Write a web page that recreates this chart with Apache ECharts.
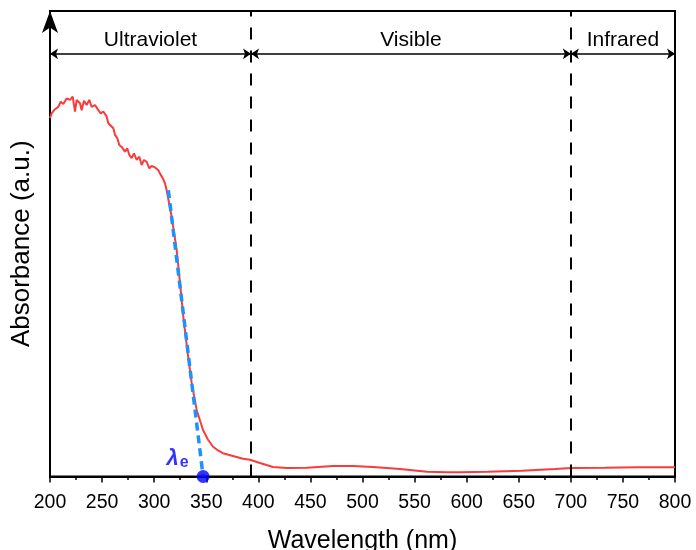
<!DOCTYPE html>
<html>
<head>
<meta charset="utf-8">
<script src="https://cdn.jsdelivr.net/npm/echarts@6/dist/echarts.min.js"></script>
<style>
	html, body { margin: 0; padding: 0; background: #fff; }
	#chart { width: 696px; height: 550px; }
</style>
</head>
<body>
<div id="chart"></div>
<script>
// absorbance spectrum (nm, a.u. scaled 0..100)
const wavelength = [
	200, 201.6, 204.8, 208, 210.3, 212.8, 216, 219.2, 221.8, 224, 225.6,
	228.8, 230.4, 232.6, 235.2, 237.7, 240, 243.2, 246.4, 248.7, 251.2,
	254.4, 256, 257.6, 260.8, 262.4, 264.6, 266.5, 268.8, 272, 274.2,
	276.1, 278.4, 280.6, 283.2, 285.7, 288, 290.2, 292.8, 295.3, 297.6,
	300.8, 304, 306.3, 308.2, 310.4, 312, 316.8, 321.6, 324.8, 328,
	331.8, 336, 340.8, 346.9, 351.7, 356.5, 361.3, 366, 375.7, 385.3,
	392, 401.6, 414, 427.5, 446.7, 471.7, 490.9, 510, 536, 561.9,
	581, 593.6, 620.5, 653, 684.8, 701, 732.8, 764.5, 800
];
const absorbance = [
	77.0, 78.0, 78.9, 79.4, 80.5, 80.0, 81.2, 80.9, 81.6, 78.4, 80.9,
	80.2, 78.7, 80.7, 79.8, 80.9, 79.4, 79.8, 78.7, 78.0, 78.4,
	77.3, 75.9, 76.2, 74.8, 73.4, 72.7, 71.2, 70.8, 69.8, 70.5,
	69.1, 68.4, 69.4, 68.0, 68.7, 66.9, 68.0, 67.6, 66.2, 66.7,
	66.4, 65.8, 64.8, 64.1, 63.0, 61.5, 55.8, 48.7, 41.6, 34.3,
	27.2, 20.1, 14.3, 10.0, 7.9, 6.4, 5.6, 5.0, 4.4, 3.8,
	3.6, 2.9, 2.04, 1.83, 1.89, 2.26, 2.26, 2.04, 1.61, 1.03,
	0.9, 0.9, 1.03, 1.25, 1.61, 1.83, 1.89, 1.98, 1.98
];

// tangent used to find the absorption edge
const edgeX = [313.6, 347];
const edgeY = [61.5, 0];
const edgeWavelength = 347;

// spectral regions
const regionNames = ['Ultraviolet', 'Visible', 'Infrared'];
const regionBounds = [200, 393, 700, 800];
const regionArrowLevel = 90.8;

const xTicks = {min: 200, max: 800, interval: 50};

const font = 'Arial, "Liberation Sans", sans-serif';

const chart = echarts.init(document.getElementById('chart'), null, {renderer: 'canvas'});

const spectrum = wavelength.map((w, i) => [w, absorbance[i]]);
const tangent = edgeX.map((x, i) => [x, edgeY[i]]);

const regionArrows = regionNames.map((name, i) => [
	{coord: [regionBounds[i], regionArrowLevel], name: name},
	{coord: [regionBounds[i + 1], regionArrowLevel]}
]);
const dividers = regionBounds.slice(1, -1).map(b => ({xAxis: b}));

chart.setOption({
	animation: false,
	backgroundColor: '#fff',
	textStyle: {fontFamily: font, color: '#000'},
	grid: {
		left: 50,
		right: 21,
		top: 11,
		bottom: 73.5,
		outerBoundsMode: 'none',
		containLabel: false,
		show: true,
		borderColor: '#000',
		borderWidth: 2,
		backgroundColor: 'transparent'
	},
	xAxis: {
		type: 'value',
		min: xTicks.min,
		max: xTicks.max,
		interval: xTicks.interval,
		name: 'Wavelength (nm)',
		nameLocation: 'middle',
		nameGap: 52,
		nameTextStyle: {fontSize: 25, color: '#000', fontFamily: font},
		axisLine: {lineStyle: {color: '#000', width: 2}},
		axisTick: {show: true, inside: false, length: 6, lineStyle: {color: '#000', width: 1.5}},
		minorTick: {show: true, splitNumber: 2, length: 3.5, lineStyle: {color: '#000', width: 1.5}},
		axisLabel: {fontSize: 19.5, color: '#000', margin: 16, fontFamily: font},
		splitLine: {show: false}
	},
	yAxis: {
		type: 'value',
		min: 0,
		max: 100,
		name: 'Absorbance (a.u.)',
		nameLocation: 'middle',
		nameGap: 15,
		nameTextStyle: {fontSize: 26, color: '#000', fontFamily: font},
		axisLine: {
			show: true,
			lineStyle: {color: '#000', width: 2},
			symbol: ['none', 'arrow'],
			symbolSize: [12, 22],
			symbolOffset: [0, 0]
		},
		axisTick: {show: false},
		axisLabel: {show: false},
		splitLine: {show: false}
	},
	series: [
		{
			name: 'regions',
			type: 'line',
			data: [],
			silent: true,
			markLine: {
				silent: true,
				animation: false,
				symbol: ['none', 'none'],
				lineStyle: {color: '#000', width: 2, type: [12, 11]},
				label: {show: false},
				data: dividers
			}
		},
		{
			name: 'bands',
			type: 'line',
			data: [],
			silent: true,
			markLine: {
				silent: true,
				animation: false,
				symbol: ['arrow', 'arrow'],
				symbolSize: 8,
				lineStyle: {color: '#000', width: 1.5, type: 'solid'},
				label: {
					show: true,
					position: 'insideMiddleTop',
					distance: 3,
					formatter: '{b}',
					fontSize: 21,
					color: '#000',
					fontFamily: font
				},
				data: regionArrows
			}
		},
		{
			name: 'Absorbance',
			type: 'line',
			data: spectrum,
			showSymbol: false,
			smooth: false,
			lineStyle: {color: '#f83c3c', width: 2},
			itemStyle: {color: '#f83c3c'},
			z: 3
		},
		{
			name: 'Edge',
			type: 'line',
			data: tangent,
			showSymbol: false,
			lineStyle: {color: '#1e90ff', width: 3.5, type: [8, 5]},
			itemStyle: {color: '#1e90ff'},
			z: 4
		},
		{
			name: 'λe',
			type: 'scatter',
			data: [[edgeWavelength, 0]],
			symbolSize: 13,
			clip: false,
			itemStyle: {color: '#0000ff'},
			z: 5,
			label: {
				show: true,
				position: 'left',
				distance: 8,
				offset: [0, -18],
				formatter: '{a|λ}{b|e}',
				rich: {
					a: {fontSize: 22, fontWeight: 'bold', fontStyle: 'italic', color: '#0000ff', fontFamily: font},
					b: {fontSize: 16, fontWeight: 'bold', color: '#0000ff', fontFamily: font, padding: [9, 0, 0, 1]}
				}
			}
		}
	]
});
</script>
</body>
</html>
